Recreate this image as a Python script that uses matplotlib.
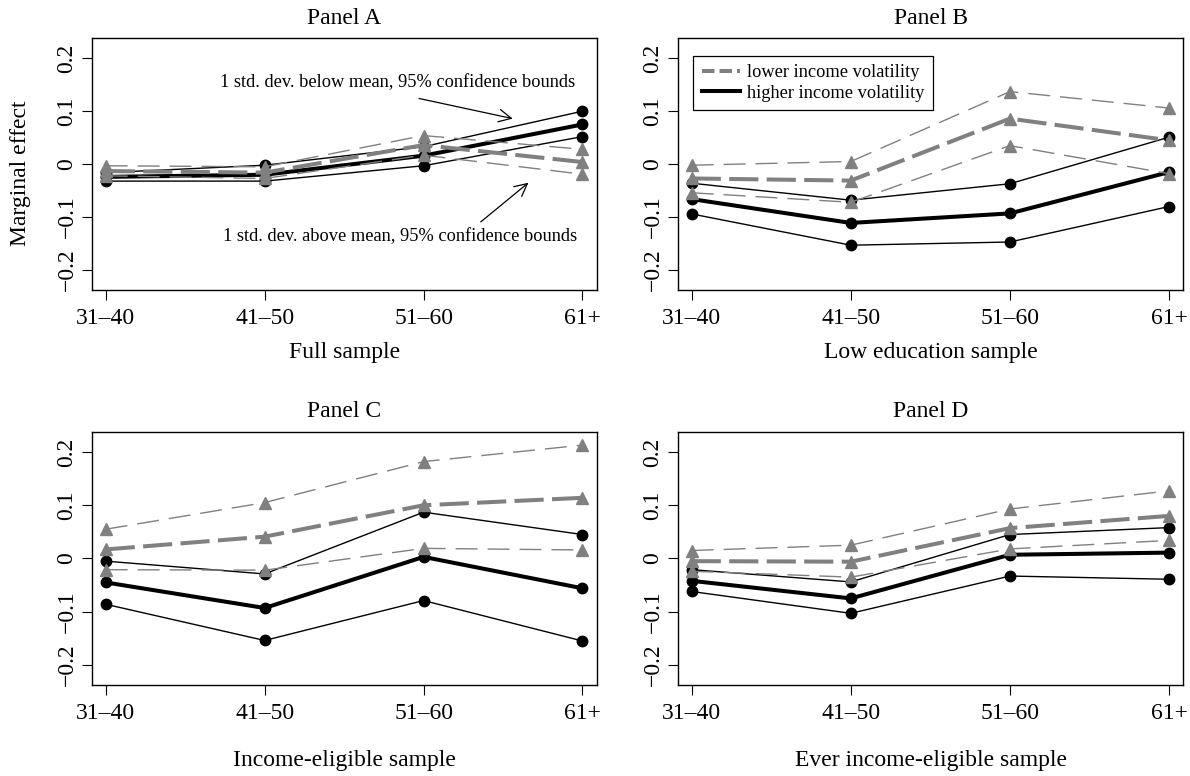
import matplotlib
matplotlib.use("Agg")
import matplotlib.pyplot as plt
from matplotlib.lines import Line2D

plt.rcParams['font.family'] = ['Liberation Serif', 'DejaVu Serif']
plt.rcParams['lines.scale_dashes'] = False

age_groups = ["31\u201340", "41\u201350", "51\u201360", "61+"]
y_ticks = [-0.2, -0.1, 0.0, 0.1, 0.2]
y_tick_labels = ["\u22120.2", "\u22120.1", "0", "0.1", "0.2"]

panel_titles = ["Panel A", "Panel B", "Panel C", "Panel D"]
sample_names = ["Full sample", "Low education sample",
                "Income-eligible sample", "Ever income-eligible sample"]

# lower income volatility (1 sd below mean): estimate and 95% bounds
a_low_mean = [-0.013, -0.016, 0.036, 0.004]
a_low_upper = [-0.003, -0.005, 0.054, 0.028]
a_low_lower = [-0.022, -0.027, 0.017, -0.019]
# higher income volatility (1 sd above mean)
a_high_mean = [-0.024, -0.020, 0.016, 0.075]
a_high_upper = [-0.016, -0.002, 0.033, 0.100]
a_high_lower = [-0.032, -0.032, -0.003, 0.052]

b_low_mean = [-0.027, -0.031, 0.086, 0.045]
b_low_upper = [-0.002, 0.005, 0.137, 0.106]
b_low_lower = [-0.054, -0.072, 0.035, -0.018]
b_high_mean = [-0.066, -0.111, -0.093, -0.015]
b_high_upper = [-0.036, -0.068, -0.037, 0.051]
b_high_lower = [-0.094, -0.153, -0.147, -0.080]

c_low_mean = [0.017, 0.041, 0.100, 0.114]
c_low_upper = [0.055, 0.105, 0.182, 0.213]
c_low_lower = [-0.021, -0.022, 0.019, 0.016]
c_high_mean = [-0.045, -0.093, 0.003, -0.056]
c_high_upper = [-0.005, -0.029, 0.087, 0.045]
c_high_lower = [-0.086, -0.154, -0.079, -0.155]

d_low_mean = [-0.005, -0.006, 0.057, 0.080]
d_low_upper = [0.015, 0.025, 0.093, 0.127]
d_low_lower = [-0.024, -0.035, 0.018, 0.034]
d_high_mean = [-0.042, -0.075, 0.007, 0.011]
d_high_upper = [-0.021, -0.044, 0.045, 0.058]
d_high_lower = [-0.062, -0.103, -0.033, -0.039]

panels = [
    (a_low_mean, a_low_upper, a_low_lower, a_high_mean, a_high_upper, a_high_lower),
    (b_low_mean, b_low_upper, b_low_lower, b_high_mean, b_high_upper, b_high_lower),
    (c_low_mean, c_low_upper, c_low_lower, c_high_mean, c_high_upper, c_high_lower),
    (d_low_mean, d_low_upper, d_low_lower, d_high_mean, d_high_upper, d_high_lower),
]

GRAY = "#808080"
BIG = 17
SMALL = 13.2

fig = plt.figure(figsize=(11.9, 7.76), dpi=100)
rects = [
    [0.0771, 0.6263, 0.4244, 0.3243],
    [0.5695, 0.6263, 0.4249, 0.3243],
    [0.0771, 0.1173, 0.4244, 0.3260],
    [0.5695, 0.1173, 0.4249, 0.3260],
]
x = [1, 2, 3, 4]

for i, (rect, data) in enumerate(zip(rects, panels)):
    low_mean, low_up, low_lo, high_mean, high_up, high_lo = data
    ax = fig.add_axes(rect)

    # higher volatility: black, solid
    for vals in (high_up, high_lo):
        ax.plot(x, vals, color="black", lw=1.0, marker="o", ms=7.5)
    ax.plot(x, high_mean, color="black", lw=2.9, marker="o", ms=7.5)

    # lower volatility: gray, dashed
    for vals in (low_up, low_lo):
        ax.plot(x, vals, color=GRAY, lw=1.0, dashes=(15.8, 7.2),
                marker="^", ms=8.4)
    ax.plot(x, low_mean, color=GRAY, lw=2.9, dashes=(21, 6),
            marker="^", ms=8.4)

    ax.set_xlim(0.912, 4.09)
    ax.set_ylim(-0.2376, 0.2376)
    ax.set_xticks(x)
    ax.set_xticklabels(age_groups, fontsize=BIG)
    ax.set_yticks(y_ticks)
    ax.set_yticklabels(y_tick_labels, fontsize=BIG, rotation=90,
                       va="center")
    ax.tick_params(direction="out", length=7, width=0.8)
    ax.tick_params(axis="x", pad=6)
    ax.tick_params(axis="y", pad=3.2)
    for sp in ax.spines.values():
        sp.set_linewidth(1.0)

    ax.set_title(panel_titles[i], fontsize=BIG, pad=10.5)
    ax.set_xlabel(sample_names[i], fontsize=BIG,
                  labelpad=9.5 if i < 2 else 18.5)

    if i == 0:
        ax.set_ylabel("Marginal effect", fontsize=BIG)
        ax.yaxis.set_label_coords(-0.121, 0.465)
        ax.text(2.836, 0.154, "1 std. dev. below mean, 95% confidence bounds",
                fontsize=SMALL, ha="center", va="center")
        ax.text(2.85, -0.137, "1 std. dev. above mean, 95% confidence bounds",
                fontsize=SMALL, ha="center", va="center")
        arrow = dict(arrowstyle="->, head_length=0.6, head_width=0.3",
                     lw=0.9, color="black", mutation_scale=15,
                     shrinkA=0, shrinkB=0)
        ax.annotate("", xy=(3.561, 0.086), xytext=(2.972, 0.124),
                    arrowprops=arrow)
        ax.annotate("", xy=(3.66, -0.035), xytext=(3.36, -0.109),
                    arrowprops=arrow)

    if i == 1:
        handles = [
            Line2D([], [], color=GRAY, lw=2.9, dashes=(9, 3.6)),
            Line2D([], [], color="black", lw=2.9),
        ]
        leg = ax.legend(handles, ["lower income volatility",
                                  "higher income volatility"],
                        loc="upper left", bbox_to_anchor=(0.031, 0.931),
                        borderaxespad=0, fontsize=SMALL, fancybox=False,
                        edgecolor="black", framealpha=1,
                        handlelength=2.1, handletextpad=0.4,
                        borderpad=0.45, labelspacing=0.2)
        leg.get_frame().set_linewidth(0.9)

fig.savefig("out.png", dpi=100)
